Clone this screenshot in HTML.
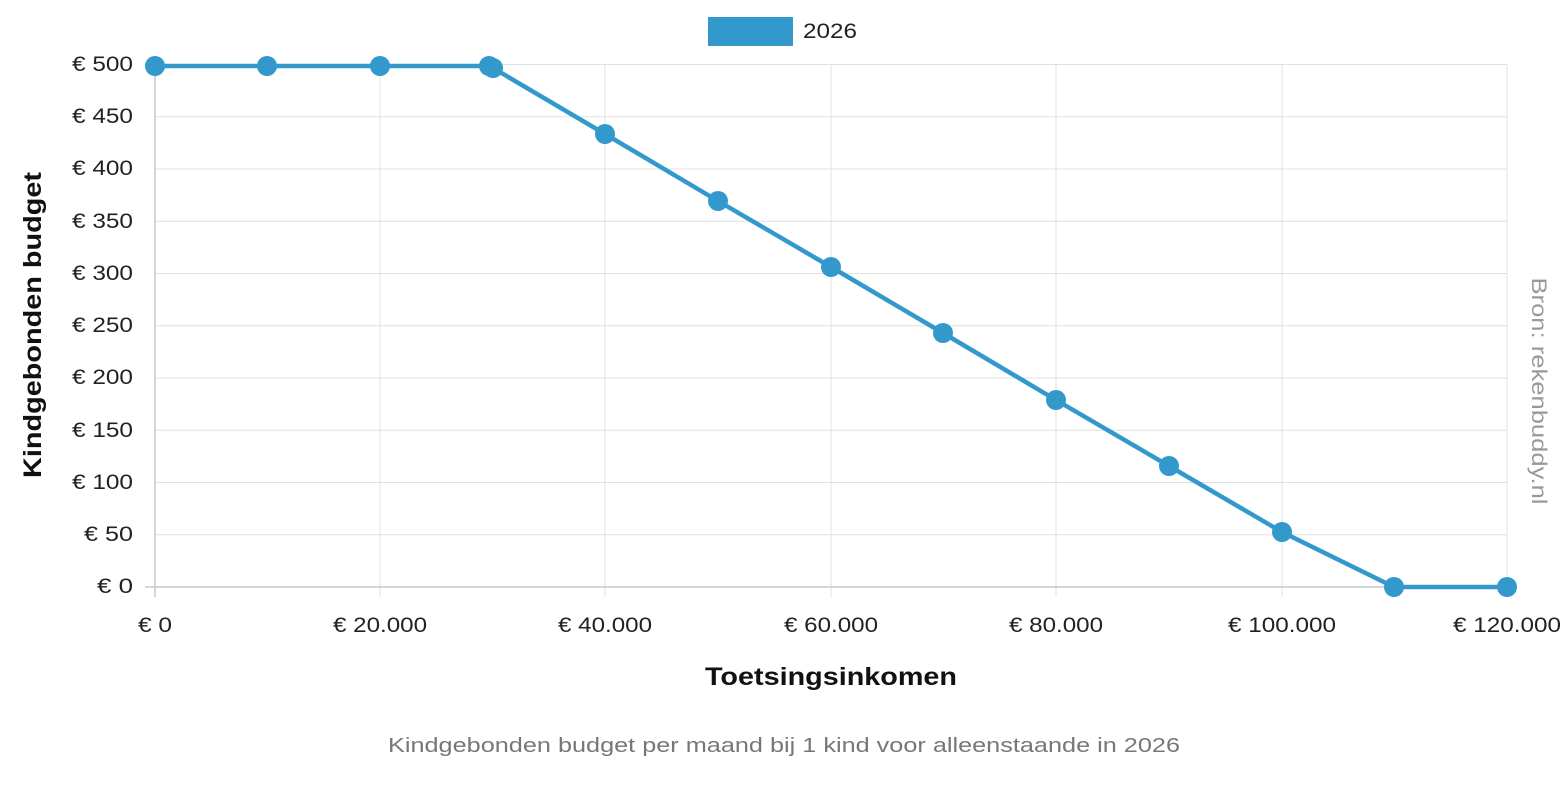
<!DOCTYPE html>
<html><head><meta charset="utf-8"><style>
html,body{margin:0;padding:0;background:#fff;}
svg text{font-family:"Liberation Sans",sans-serif;}
</style></head><body>
<svg width="1568" height="784" viewBox="0 0 1568 784" xmlns="http://www.w3.org/2000/svg">
<g stroke="#e0e0e0" stroke-width="1">
<line x1="155" y1="64.5" x2="1507" y2="64.5"/>
<line x1="155" y1="116.8" x2="1507" y2="116.8"/>
<line x1="155" y1="169" x2="1507" y2="169"/>
<line x1="155" y1="221.3" x2="1507" y2="221.3"/>
<line x1="155" y1="273.5" x2="1507" y2="273.5"/>
<line x1="155" y1="325.8" x2="1507" y2="325.8"/>
<line x1="155" y1="378" x2="1507" y2="378"/>
<line x1="155" y1="430.3" x2="1507" y2="430.3"/>
<line x1="155" y1="482.5" x2="1507" y2="482.5"/>
<line x1="155" y1="534.8" x2="1507" y2="534.8"/>
<line x1="380" y1="64.5" x2="380" y2="597"/>
<line x1="605" y1="64.5" x2="605" y2="597"/>
<line x1="831" y1="64.5" x2="831" y2="597"/>
<line x1="1056" y1="64.5" x2="1056" y2="597"/>
<line x1="1282" y1="64.5" x2="1282" y2="597"/>
<line x1="1507" y1="64.5" x2="1507" y2="597"/>
</g>
<g stroke="#c8c8c8" stroke-width="1.5">
<line x1="155" y1="64.5" x2="155" y2="597"/>
<line x1="145" y1="587" x2="1507" y2="587"/>
</g>
<g font-size="21" fill="#222" text-anchor="end" lengthAdjust="spacingAndGlyphs">
<text x="133" y="71" textLength="61" lengthAdjust="spacingAndGlyphs">€ 500</text>
<text x="133" y="123" textLength="61" lengthAdjust="spacingAndGlyphs">€ 450</text>
<text x="133" y="175" textLength="61" lengthAdjust="spacingAndGlyphs">€ 400</text>
<text x="133" y="228" textLength="61" lengthAdjust="spacingAndGlyphs">€ 350</text>
<text x="133" y="280" textLength="61" lengthAdjust="spacingAndGlyphs">€ 300</text>
<text x="133" y="332" textLength="61" lengthAdjust="spacingAndGlyphs">€ 250</text>
<text x="133" y="384" textLength="61" lengthAdjust="spacingAndGlyphs">€ 200</text>
<text x="133" y="437" textLength="61" lengthAdjust="spacingAndGlyphs">€ 150</text>
<text x="133" y="489" textLength="61" lengthAdjust="spacingAndGlyphs">€ 100</text>
<text x="133" y="541" textLength="49" lengthAdjust="spacingAndGlyphs">€ 50</text>
<text x="133" y="593" textLength="36" lengthAdjust="spacingAndGlyphs">€ 0</text>
</g>
<g font-size="21" fill="#222" text-anchor="middle">
<text x="155" y="632" textLength="34" lengthAdjust="spacingAndGlyphs">€ 0</text>
<text x="380" y="632" textLength="94" lengthAdjust="spacingAndGlyphs">€ 20.000</text>
<text x="605" y="632" textLength="94" lengthAdjust="spacingAndGlyphs">€ 40.000</text>
<text x="831" y="632" textLength="94" lengthAdjust="spacingAndGlyphs">€ 60.000</text>
<text x="1056" y="632" textLength="94" lengthAdjust="spacingAndGlyphs">€ 80.000</text>
<text x="1282" y="632" textLength="108" lengthAdjust="spacingAndGlyphs">€ 100.000</text>
<text x="1507" y="632" textLength="108" lengthAdjust="spacingAndGlyphs">€ 120.000</text>
</g>
<text x="831" y="685" font-size="25" font-weight="bold" text-anchor="middle" fill="#111" textLength="252" lengthAdjust="spacingAndGlyphs">Toetsingsinkomen</text>
<text transform="translate(41,325) rotate(-90)" font-size="25" font-weight="bold" text-anchor="middle" fill="#111" textLength="306" lengthAdjust="spacingAndGlyphs">Kindgebonden budget</text>
<text transform="translate(1532,391) rotate(90)" font-size="21" text-anchor="middle" fill="#999" textLength="227" lengthAdjust="spacingAndGlyphs">Bron: rekenbuddy.nl</text>
<text x="784" y="752" font-size="20" text-anchor="middle" fill="#777" textLength="792" lengthAdjust="spacingAndGlyphs">Kindgebonden budget per maand bij 1 kind voor alleenstaande in 2026</text>
<rect x="708" y="17" width="85" height="29" fill="#3399cc"/>
<text x="803" y="38" font-size="21" fill="#222" textLength="54" lengthAdjust="spacingAndGlyphs">2026</text>
<polyline fill="none" stroke="#3399cc" stroke-width="4.5" points="155,66 267,66 380,66 489,66 493,68 605,134 718,201 831,267 943,333 1056,400 1169,466 1282,532 1394,587 1507,587"/>
<g fill="#3399cc">
<circle cx="155" cy="66" r="10"/><circle cx="267" cy="66" r="10"/><circle cx="380" cy="66" r="10"/><circle cx="489" cy="66" r="10"/><circle cx="493" cy="68" r="10"/><circle cx="605" cy="134" r="10"/><circle cx="718" cy="201" r="10"/><circle cx="831" cy="267" r="10"/><circle cx="943" cy="333" r="10"/><circle cx="1056" cy="400" r="10"/><circle cx="1169" cy="466" r="10"/><circle cx="1282" cy="532" r="10"/><circle cx="1394" cy="587" r="10"/><circle cx="1507" cy="587" r="10"/>
</g>
</svg>
</body></html>
